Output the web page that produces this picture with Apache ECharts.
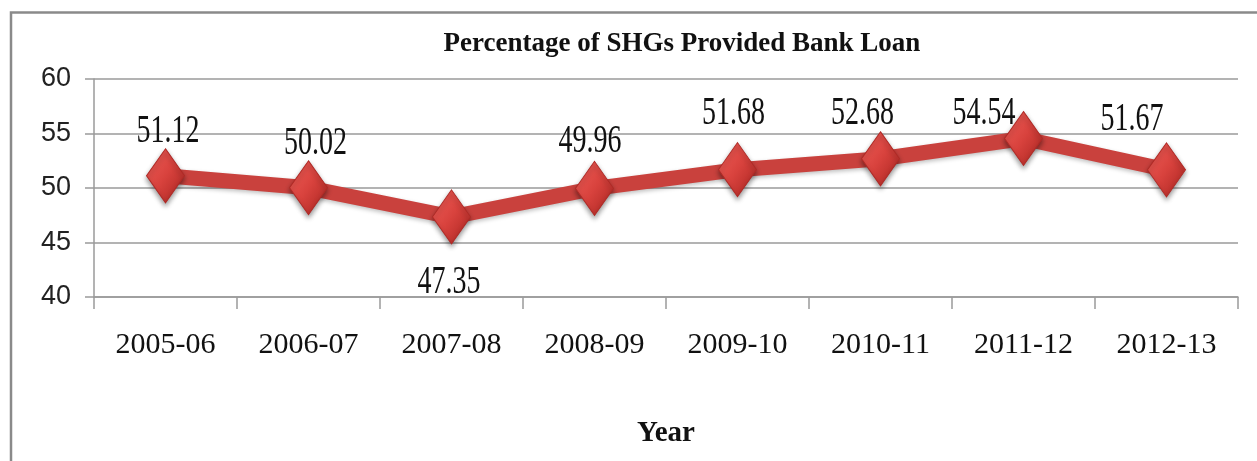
<!DOCTYPE html>
<html>
<head>
<meta charset="utf-8">
<script src="https://cdn.jsdelivr.net/npm/echarts@6/dist/echarts.min.js"></script>
<style>
html,body{margin:0;padding:0;background:#fff;}
#chart{width:1257px;height:461px;}
</style>
</head>
<body>
<div id="chart"></div>
<script>
const titleText = 'Percentage of SHGs Provided Bank Loan';
const xAxisName = 'Year';
const categories = ['2005-06','2006-07','2007-08','2008-09','2009-10','2010-11','2011-12','2012-13'];
const values = [51.12, 50.02, 47.35, 49.96, 51.68, 52.68, 54.54, 51.67];
const yTicks = {min: 40, max: 60, interval: 5};

// label placement tweaks relative to each point (style, not data)
const labelOffsets = [[2.5,-44.5],[7,-44.5],[-2.5,66],[-4.5,-46.5],[-4,-56],[-18,-45],[-39.5,-25],[-34.5,-50.5]];

const serif = '"Liberation Serif","Times New Roman",serif';
const sans = '"Liberation Sans",Arial,sans-serif';

const chart = echarts.init(document.getElementById('chart'), null, {renderer: 'canvas'});
chart.setOption({
  animation: false,
  backgroundColor: '#fff',
  title: {
    text: titleText,
    left: 677,
    top: 26,
    textAlign: 'center',
    textStyle: {fontFamily: serif, fontWeight: 'bold', fontSize: 27, color: '#111'}
  },
  graphic: [
    {type: 'polyline', silent: true, shape: {points: [[11, 470], [11, 12.5], [1300, 12.5]]},
     style: {stroke: '#8a8a8a', lineWidth: 2.5, fill: null}}
  ],
  grid: {left: 94, right: 19, top: 79, bottom: 164, containLabel: false},
  xAxis: {
    type: 'category',
    data: categories,
    boundaryGap: true,
    name: xAxisName,
    nameLocation: 'middle',
    nameGap: 122,
    nameTextStyle: {fontFamily: serif, fontWeight: 'bold', fontSize: 29, color: '#111'},
    axisLine: {show: true, lineStyle: {color: '#9a9a9a', width: 1.5}},
    axisTick: {show: true, alignWithLabel: false, length: 12, lineStyle: {color: '#9a9a9a', width: 1.5}},
    axisLabel: {fontFamily: serif, fontSize: 30, color: '#111', margin: 33}
  },
  yAxis: {
    type: 'value',
    min: yTicks.min, max: yTicks.max, interval: yTicks.interval,
    axisLine: {show: true, lineStyle: {color: '#9a9a9a', width: 1.5}},
    axisTick: {show: true, length: 9, lineStyle: {color: '#9a9a9a', width: 1.5}},
    splitLine: {show: true, lineStyle: {color: '#9a9a9a', width: 1.5}},
    axisLabel: {fontFamily: sans, fontSize: 27, color: '#222', margin: 23}
  },
  series: [{
    type: 'line',
    name: titleText,
    data: values,
    symbol: 'diamond',
    symbolSize: [38, 54],
    lineStyle: {color: '#c9413d', width: 15, shadowColor: 'rgba(0,0,0,0.25)', shadowBlur: 4, shadowOffsetY: 2},
    itemStyle: {
      color: new echarts.graphic.LinearGradient(0, 0, 1, 1, [
        {offset: 0, color: '#f0605a'},
        {offset: 0.5, color: '#d8423d'},
        {offset: 1, color: '#a82420'}
      ]),
      borderColor: '#b02a26',
      borderWidth: 1,
      shadowColor: 'rgba(0,0,0,0.4)',
      shadowBlur: 5,
      shadowOffsetY: 3
    },
    label: {show: false},
    z: 3
  }, {
    type: 'custom',
    name: 'labels',
    silent: true,
    data: values.map((v, i) => [i, v]),
    encode: {x: 0, y: 1},
    renderItem: function (params, api) {
      const i = params.dataIndex;
      const v = api.value(1);
      const pt = api.coord([api.value(0), v]);
      const off = labelOffsets[i];
      return {
        type: 'text',
        x: pt[0] + off[0],
        y: pt[1] + off[1],
        scaleY: 1.42,
        style: {
          text: v.toFixed(2),
          font: '28px ' + serif,
          fill: '#111',
          align: 'center',
          verticalAlign: 'middle'
        }
      };
    },
    z: 4
  }]
});
</script>
</body>
</html>
